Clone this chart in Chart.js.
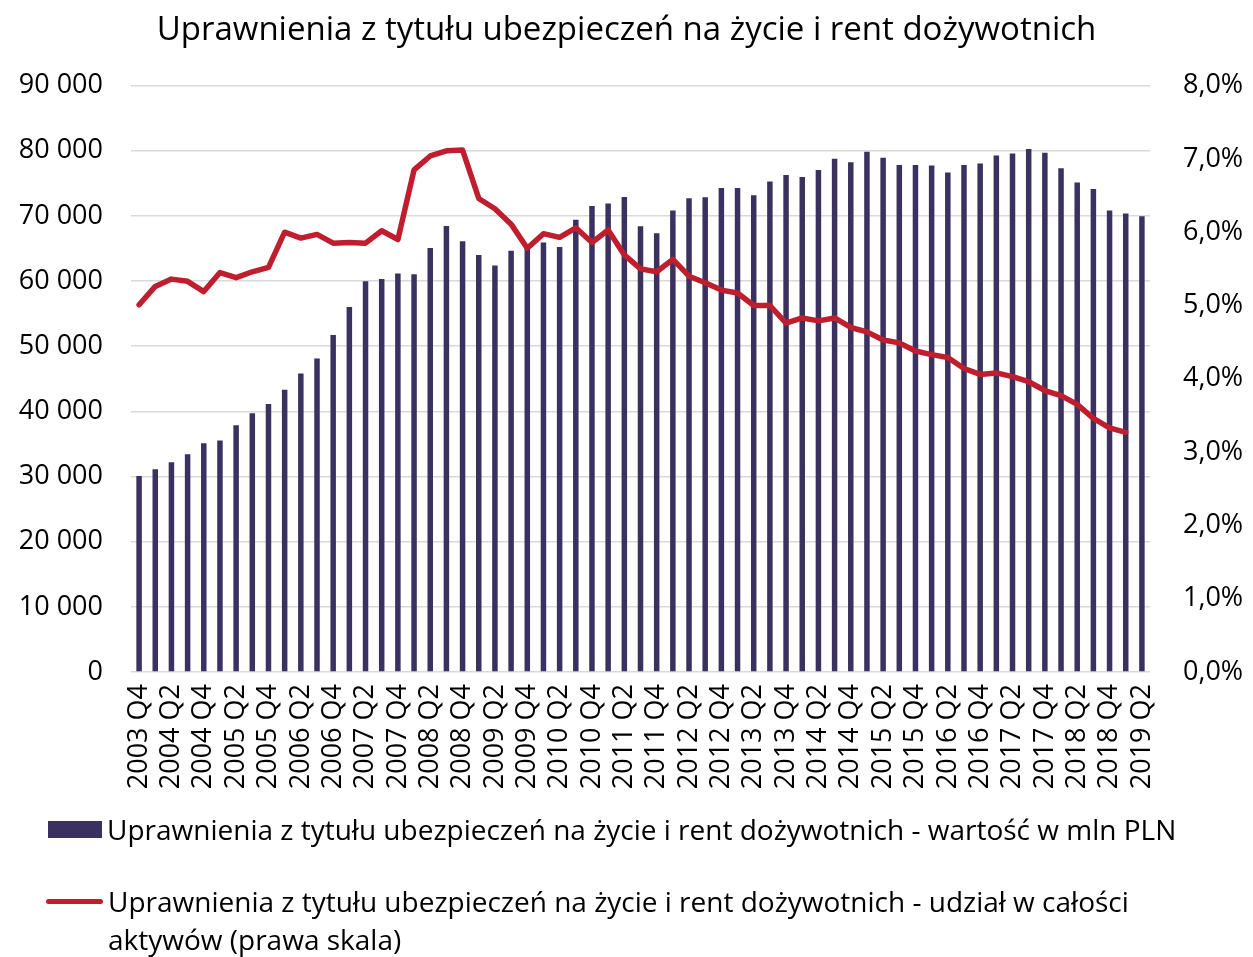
<!DOCTYPE html>
<html lang="pl">
<head>
    <meta charset="UTF-8">
    <title>Uprawnienia z tytułu ubezpieczeń na życie i rent dożywotnich</title>
    <script src="https://cdn.jsdelivr.net/npm/chart.js"></script>
    <style>
        body {
            margin: 0;
            background: #fff;
            font-family: "Open Sans", sans-serif;
        }
        .wrap {
            position: relative;
            width: 1253px;
            height: 957px;
        }
        .legend {
            position: absolute;
            left: 46px;
            top: 810px;
            color: #000;
            font-size: 28px;
        }
        .item {
            display: flex;
            align-items: flex-start;
            line-height: 38px;
        }
        .swatch {
            flex: none;
            margin-right: 5px;
        }
        .box {
            width: 54px;
            height: 17px;
            margin-top: 11px;
            margin-left: 2px;
        }
        .line {
            width: 57px;
            height: 5px;
            border-radius: 3px;
            margin-top: 17px;
        }
    </style>
</head>
<body>
    <div class="wrap">
        <canvas id="chart"></canvas>
        <div class="legend" id="legend"></div>
    </div>

    <script>
        const title = 'Uprawnienia z tytułu ubezpieczeń na życie i rent dożywotnich';

        const quarters = [
            '2003 Q4',
            '2004 Q1', '2004 Q2', '2004 Q3', '2004 Q4',
            '2005 Q1', '2005 Q2', '2005 Q3', '2005 Q4',
            '2006 Q1', '2006 Q2', '2006 Q3', '2006 Q4',
            '2007 Q1', '2007 Q2', '2007 Q3', '2007 Q4',
            '2008 Q1', '2008 Q2', '2008 Q3', '2008 Q4',
            '2009 Q1', '2009 Q2', '2009 Q3', '2009 Q4',
            '2010 Q1', '2010 Q2', '2010 Q3', '2010 Q4',
            '2011 Q1', '2011 Q2', '2011 Q3', '2011 Q4',
            '2012 Q1', '2012 Q2', '2012 Q3', '2012 Q4',
            '2013 Q1', '2013 Q2', '2013 Q3', '2013 Q4',
            '2014 Q1', '2014 Q2', '2014 Q3', '2014 Q4',
            '2015 Q1', '2015 Q2', '2015 Q3', '2015 Q4',
            '2016 Q1', '2016 Q2', '2016 Q3', '2016 Q4',
            '2017 Q1', '2017 Q2', '2017 Q3', '2017 Q4',
            '2018 Q1', '2018 Q2', '2018 Q3', '2018 Q4',
            '2019 Q1', '2019 Q2'
        ];

        // wartość w mln PLN (lewa skala)
        const valueMln = [
            30070, 31130, 32190, 33410, 35100, 35530, 37860, 39710, 41140, 43310, 45800, 48130, 51730, 56020, 59990, 60300, 61150,
            61050, 65070, 68460, 66130, 64010, 62370, 64640, 65400, 65920, 65230, 69410, 71530, 71900, 72910, 68410, 67350, 70840,
            72700, 72860, 74290, 74290, 73170, 75290, 76290, 75980, 77040, 78780, 78250, 79840, 78940, 77830, 77830, 77750,
            76660, 77830, 78040, 79260, 79580, 80260, 79680, 77300, 75120, 74120, 70840, 70360, 69940
        ];

        // udział w całości aktywów, % (prawa skala)
        const sharePct = [
            5.01, 5.26, 5.36, 5.33, 5.19, 5.45, 5.38, 5.46, 5.52, 6.00, 5.92, 5.97, 5.85, 5.86, 5.85, 6.02, 5.90,
            6.85, 7.04, 7.11, 7.12, 6.46, 6.32, 6.11, 5.78, 5.98, 5.93, 6.06, 5.86, 6.03, 5.69, 5.50, 5.46, 5.63,
            5.40, 5.31, 5.21, 5.17, 5.00, 5.00, 4.76, 4.83, 4.79, 4.83, 4.70, 4.64, 4.53, 4.49, 4.38, 4.33,
            4.29, 4.14, 4.06, 4.08, 4.03, 3.96, 3.84, 3.77, 3.65, 3.46, 3.33, 3.27, null
        ];

        const leftTicks = [0, 10000, 20000, 30000, 40000, 50000, 60000, 70000, 80000, 90000];
        const rightTicks = [0, 1, 2, 3, 4, 5, 6, 7, 8];

        const barLabel = 'Uprawnienia z tytułu ubezpieczeń na życie i rent dożywotnich - wartość w mln PLN';
        const lineLabel = 'Uprawnienia z tytułu ubezpieczeń na życie i rent dożywotnich - udział w całości aktywów (prawa skala)';

        const barColor = '#3b3161';
        const lineColor = '#be1e2d';

        const fmtThousands = v => String(v).replace(/\B(?=(\d{3})+(?!\d))/g, ' ');
        const fmtPct = v => v.toFixed(1).replace('.', ',') + '%';

        Chart.defaults.font.family = '"Open Sans", sans-serif';
        Chart.defaults.color = '#000';

        const ctx = document.getElementById('chart').getContext('2d');
        new Chart(ctx, {
            data: {
                labels: quarters,
                datasets: [
                    {
                        type: 'line',
                        label: lineLabel,
                        data: sharePct,
                        yAxisID: 'yR',
                        borderColor: lineColor,
                        backgroundColor: lineColor,
                        borderWidth: 5.5,
                        borderJoinStyle: 'round',
                        borderCapStyle: 'round',
                        pointRadius: 0,
                        tension: 0,
                        order: 0
                    },
                    {
                        type: 'bar',
                        label: barLabel,
                        data: valueMln,
                        yAxisID: 'y',
                        backgroundColor: barColor,
                        barPercentage: 0.34,
                        categoryPercentage: 1,
                        order: 1
                    }
                ]
            },
            options: {
                responsive: true,
                maintainAspectRatio: false,
                animation: false,
                layout: { padding: { left: 0, right: 0, top: 0, bottom: 145 } },
                plugins: {
                    legend: { display: false },
                    tooltip: { enabled: false },
                    title: {
                        display: true,
                        text: title,
                        font: { size: 33, weight: 'normal' },
                        color: '#000',
                        padding: { top: 11, bottom: 35 }
                    }
                },
                scales: {
                    x: {
                        grid: { display: false, drawTicks: false },
                        border: { display: false },
                        ticks: {
                            autoSkip: false,
                            minRotation: 90,
                            maxRotation: 90,
                            padding: 12,
                            font: { size: 27 },
                            callback: function (v, i) { return i % 2 === 0 ? quarters[i] : ''; }
                        },
                        afterFit: s => { s.height = 140; }
                    },
                    y: {
                        position: 'left',
                        min: 0,
                        max: 90000,
                        afterBuildTicks: s => { s.ticks = leftTicks.map(v => ({ value: v })); },
                        grid: { color: '#d9d9d9', lineWidth: 1.5, drawTicks: false },
                        border: { display: false },
                        ticks: {
                            padding: 28,
                            font: { size: 27 },
                            callback: v => fmtThousands(v)
                        },
                        afterFit: s => { s.width = 131; }
                    },
                    yR: {
                        position: 'right',
                        min: 0,
                        max: 8,
                        afterBuildTicks: s => { s.ticks = rightTicks.map(v => ({ value: v })); },
                        grid: { display: false, drawTicks: false },
                        border: { display: false },
                        ticks: {
                            padding: 33,
                            font: { size: 27 },
                            callback: v => fmtPct(v)
                        },
                        afterFit: s => { s.width = 103; }
                    }
                }
            }
        });

        // legenda pod wykresem (tekst z zawijaniem jak w oryginale)
        const legend = document.getElementById('legend');
        legend.innerHTML = `
            <div class="item" style="white-space: nowrap;">
                <div class="swatch box" style="background:${barColor}"></div>
                <div>${barLabel}</div>
            </div>
            <div class="item" style="margin-top: 34px;">
                <div class="swatch line" style="background:${lineColor}"></div>
                <div style="width: 1090px;">${lineLabel}</div>
            </div>
        `;
    </script>
</body>
</html>
